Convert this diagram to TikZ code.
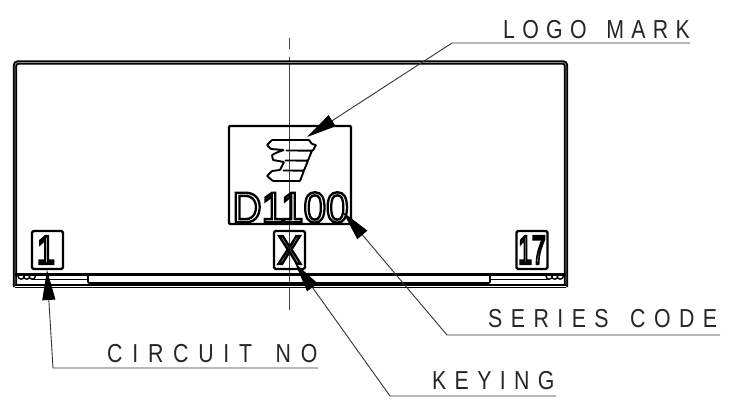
\documentclass[tikz,border=0pt]{standalone}
\usepackage{fontspec}
\usetikzlibrary{arrows.meta}
\newfontfamily\lblfont[FakeStretch=0.82,WordSpace=1.5]{Liberation Sans}
\newfontfamily\markfont{Liberation Sans}
\newcommand{\outlined}[2]{\special{pdf:code q 1 Tr #1 w}#2\special{pdf:code Q}}
\newcommand{\spaced}[2]{\addfontfeatures{LetterSpace=#1}#2}
\tikzset{
  body/.style={line width=1.8pt,double=black!45,double distance=0.8pt,rounded corners=3pt},
  thick line/.style={line width=3.4pt},
  mid line/.style={line width=1.6pt},
  frame/.style={draw,line width=2.4pt,rounded corners=1.5pt,minimum height=38pt,minimum width=31pt,inner sep=0pt},
  leader/.style={line width=0.9pt,black!80,-{Triangle[length=30pt,width=13pt,fill=black,color=black]}},
  callout/.style={anchor=base west,inner sep=0pt,font=\lblfont\fontsize{26}{26}\selectfont,text=black!85},
}
\begin{document}
\begin{tikzpicture}[x=1pt,y=-1pt]
\useasboundingbox (0,0) rectangle (732,405);
\fill[white] (0,0) rectangle (732,405);
% axis
\coordinate (axisTop) at (289,38);
\coordinate (axisBot) at (289,310);
\draw[line width=0.9pt,black!75,dash pattern=on 11pt off 8pt on 250pt off 0pt] (axisTop) -- (axisBot);
% body
\draw[body] (15,287) -- (15,62.5) -- (566,62.5) -- (566,287);
\draw[thick line] (15,274.5) -- (566,274.5);
\draw[line width=1.4pt,double=white,double distance=0.7pt] (15,286) -- (566,286);
\draw[mid line,rounded corners=1pt] (88,276) -- (88,283) -- (490,283) -- (490,276);
\draw[mid line] (32,279.5) -- (88,279.5) (490,279.5) -- (549,279.5);
% corner details
\foreach \cx in {18,23.5,29}{\draw[line width=1.4pt] (\cx,276) arc[start angle=180,end angle=360,radius=3.2pt];}
\foreach \cx in {546,551.5,557}{\draw[line width=1.4pt] (\cx,276) arc[start angle=180,end angle=360,radius=3.2pt];}
% mark box
\node[draw,line width=2.4pt,rounded corners=1pt,minimum width=122pt,minimum height=98pt,inner sep=0pt] (markbox) at (290,175) {};
% logo
\draw[line width=1.9pt,rounded corners=0.6pt,line join=round]
 (272,140)--(309,140)--(312,144)--(316,145)--(313,150.5)--(286,150.5)--(312,150.6)--(308,160.5)--(285,160.5)--(308,160.6)--(304,170.5)--(283,170.5)--(304,170.6)--(300,181)--(273,181)--(267,176)--(272,171)--(280,170)--(284,162)--(273,160)--(272,155)--(278,152)--(284,150)--(271,149)--(267,145)--cycle;
% part-mark text
\node[inner sep=0pt,xscale=0.94,font=\markfont\fontsize{43}{43}\selectfont] (code) at (290.5,207.5) {\outlined{2.4}{D1100}};
% circuit boxes
\node[frame] (box1) at (47.5,250) {};
\node[frame] (boxx) at (289.5,250) {};
\node[frame] (box17) at (532,250) {};
\node[inner sep=0pt,xscale=0.8,font=\markfont\fontsize{40}{40}\selectfont] (n1) at (46,250) {\outlined{2.6}{1}};
\node[inner sep=0pt,xscale=0.88,font=\markfont\fontsize{40}{40}\selectfont] (nx) at (289.5,250) {\outlined{2.6}{X}};
\node[inner sep=0pt,xscale=0.62,font=\markfont\fontsize{40}{40}\selectfont] (n17) at (532,250) {\outlined{2.6}{17}};
% labels
\node[callout] (logo) at (503,38.5) {\spaced{28}{LOGO MARK}};
\node[callout] (series) at (488,327) {\spaced{32.5}{SERIES CODE}};
\node[callout] (circuit) at (107,362) {\spaced{37.5}{CIRCUIT NO}};
\node[callout] (keying) at (432,389) {\spaced{32}{KEYING}};
% leader points
\coordinate (logoEnd) at (690,43); \coordinate (logoBend) at (452,43); \coordinate (logoTip) at (307,137);
\coordinate (seriesEnd) at (720,335); \coordinate (seriesBend) at (447,335); \coordinate (seriesTip) at (343,212);
\coordinate (circuitEnd) at (318,368); \coordinate (circuitBend) at (53,368); \coordinate (circuitTip) at (47,270);
\coordinate (keyingEnd) at (556,396); \coordinate (keyingBend) at (390,396); \coordinate (keyingTip) at (295,263);
\draw[leader] (logoEnd) -- (logoBend) -- (logoTip);
\draw[leader] (seriesEnd) -- (seriesBend) -- (seriesTip);
\draw[leader] (circuitEnd) -- (circuitBend) -- (circuitTip);
\draw[leader] (keyingEnd) -- (keyingBend) -- (keyingTip);
\end{tikzpicture}
\end{document}
